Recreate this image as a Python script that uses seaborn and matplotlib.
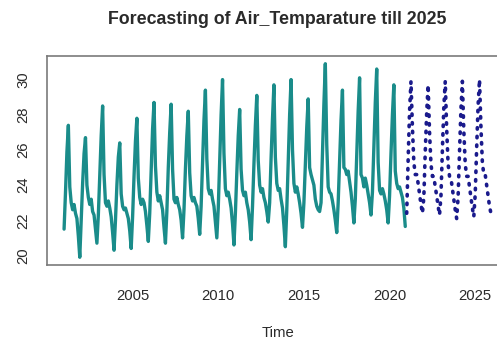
import numpy as np
import pandas as pd
import matplotlib
matplotlib.use("Agg")
import matplotlib.pyplot as plt
import seaborn as sns

# Monthly mean air temperature, Jan 2001 - Dec 2020 (one row per year)
observed_by_year = [
    [21.5, 23.6, 25.9, 27.4, 23.9, 23.0, 22.6, 22.9, 22.4, 22.1, 21.1, 19.9],
    [22.0, 24.1, 25.8, 26.7, 24.0, 23.3, 22.9, 23.2, 22.5, 22.3, 21.5, 20.7],
    [22.3, 24.6, 26.8, 28.5, 24.6, 23.0, 22.8, 23.1, 22.7, 22.2, 21.3, 20.3],
    [22.0, 24.0, 25.6, 26.4, 23.5, 22.8, 22.6, 22.7, 22.4, 22.1, 21.4, 20.4],
    [22.2, 24.5, 26.5, 27.8, 24.4, 23.3, 22.9, 23.2, 23.0, 22.5, 21.7, 20.8],
    [22.4, 24.8, 27.2, 28.7, 25.1, 23.6, 23.1, 23.4, 23.0, 22.6, 21.6, 20.7],
    [22.5, 25.0, 27.0, 28.6, 24.9, 23.2, 23.0, 23.3, 22.9, 22.6, 22.0, 21.0],
    [22.6, 24.9, 26.8, 28.2, 24.7, 23.4, 23.1, 23.3, 23.0, 22.8, 22.1, 21.2],
    [22.8, 25.3, 27.7, 29.4, 25.5, 23.8, 23.5, 23.7, 23.2, 22.8, 21.9, 21.0],
    [22.7, 25.4, 28.0, 30.0, 25.8, 23.8, 23.4, 23.6, 23.2, 22.7, 21.8, 20.6],
    [22.4, 24.7, 26.8, 28.3, 24.9, 23.7, 23.4, 23.6, 23.0, 22.6, 21.9, 20.9],
    [22.8, 25.2, 27.4, 29.1, 25.4, 24.0, 23.6, 23.8, 23.3, 23.0, 22.5, 21.9],
    [23.0, 25.5, 27.8, 29.7, 25.6, 24.1, 23.7, 23.8, 23.2, 22.7, 21.7, 20.5],
    [22.6, 25.3, 28.0, 30.0, 26.0, 24.1, 23.6, 23.9, 23.5, 23.0, 22.4, 21.6],
    [23.0, 25.2, 27.3, 28.9, 25.0, 24.6, 24.3, 24.0, 23.2, 22.8, 22.6, 22.5],
    [23.0, 25.8, 28.6, 30.9, 26.3, 23.9, 23.6, 23.5, 23.1, 22.6, 22.0, 21.3],
    [23.0, 25.4, 27.7, 29.4, 25.0, 24.9, 24.6, 24.8, 24.2, 23.6, 22.8, 21.85],
    [23.2, 25.8, 28.2, 30.1, 24.6, 24.4, 23.9, 24.4, 24.0, 23.5, 23.0, 22.3],
    [23.6, 26.2, 28.7, 30.6, 25.3, 23.7, 23.5, 23.8, 23.5, 23.1, 22.6, 21.85],
    [23.4, 25.8, 28.0, 29.7, 24.8, 24.1, 23.8, 23.9, 23.6, 23.3, 22.7, 21.65],
]

# Point forecast, Jan 2021 - Dec 2025
forecast_by_year = [
    [22.4, 25.4, 28.2, 29.9, 27.3, 25.3, 24.6, 24.6, 24.1, 23.5, 22.9, 22.4],
    [23.3, 25.9, 28.1, 29.7, 27.0, 25.2, 24.5, 24.5, 23.9, 23.4, 22.8, 22.3],
    [23.4, 26.0, 28.4, 29.9, 27.2, 25.2, 24.5, 24.4, 23.8, 23.2, 22.6, 22.1],
    [23.3, 25.9, 28.3, 29.9, 27.1, 25.2, 24.5, 24.5, 23.9, 23.3, 22.7, 22.2],
    [23.5, 26.1, 28.5, 30.0, 27.3, 25.3, 24.6, 24.6, 24.0, 23.4, 22.8, 22.4],
]

observed_start = 2001
forecast_start = 2021
x_ticks = [2005, 2010, 2015, 2020, 2025]
y_ticks = [20, 22, 24, 26, 28, 30]

observed = np.concatenate(observed_by_year)
forecast = np.concatenate(forecast_by_year)
obs_df = pd.DataFrame({"Time": observed_start + np.arange(observed.size) / 12.0,
                       "Temp": observed})
fc_df = pd.DataFrame({"Time": forecast_start + np.arange(forecast.size) / 12.0,
                      "Temp": forecast})

sns.set_theme(style="white")
plt.rcParams["font.family"] = ["Liberation Sans", "DejaVu Sans"]
text_col = "#2a2a2a"
frame_col = "#7a7a7a"

fig = plt.figure(figsize=(4.97, 3.43), dpi=100)
# plot region runs a little past the right edge of the canvas
ax = fig.add_axes([47 / 497, 78 / 343, 461 / 497, 209 / 343])

sns.lineplot(data=obs_df, x="Time", y="Temp", ax=ax, color="#1a8c8a",
             linewidth=2.4, estimator=None, sort=False)
sns.lineplot(data=fc_df, x="Time", y="Temp", ax=ax, color="#1a1a8c",
             linewidth=2.6, estimator=None, sort=False,
             linestyle=(0, (0.4, 2.0)), dash_capstyle="round")

# R-style 4% padding of the data range
x_all = np.concatenate([obs_df["Time"], fc_df["Time"]])
y_all = np.concatenate([observed, forecast])
xr = x_all.max() - x_all.min()
yr = y_all.max() - y_all.min()
ax.set_xlim(x_all.min() - 0.04 * xr, x_all.max() + 0.04 * xr)
ax.set_ylim(y_all.min() - 0.04 * yr, y_all.max() + 0.04 * yr)

ax.set_xticks(x_ticks)
ax.set_xticklabels([str(t) for t in x_ticks])
ax.set_yticks(y_ticks)
ax.set_yticklabels([str(t) for t in y_ticks], rotation=90, va="center")
ax.tick_params(axis="both", direction="out", length=7, width=1.0,
               color=frame_col, labelsize=10.7, labelcolor=text_col, pad=10)
ax.tick_params(axis="y", pad=5)

for name, s in ax.spines.items():
    s.set_color(frame_col)
    s.set_linewidth(1.2)
    s.set_visible(name != "right")

ax.set_xlabel("Time", fontsize=10.7, color=text_col, labelpad=17)
ax.set_ylabel("")
ax.grid(False)

fig.text(277 / 497, 1 - 20 / 343, "Forecasting of Air_Temparature till 2025",
         ha="center", va="center", fontsize=12.8, fontweight="bold",
         color=text_col)

fig.savefig("out.png", dpi=100)
